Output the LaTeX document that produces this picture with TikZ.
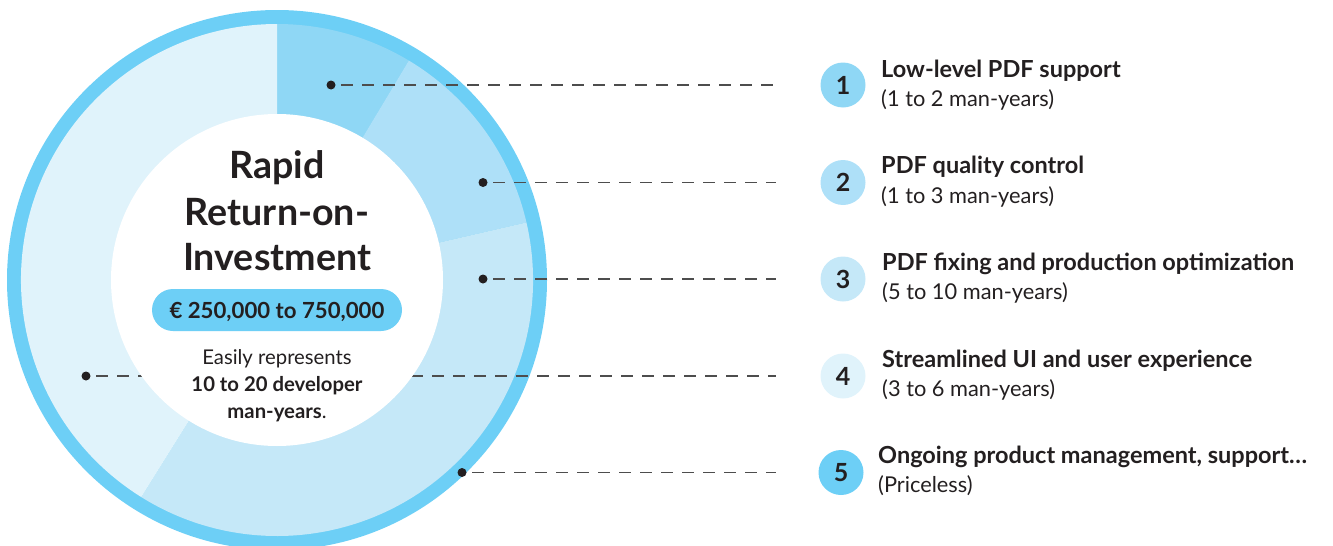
\documentclass[tikz,border=0pt]{standalone}
\usepackage{fontspec}
\setmainfont{Lato}
\definecolor{ringc}{HTML}{6DCFF6}
\definecolor{segA}{HTML}{8FD7F5}
\definecolor{segB}{HTML}{AEE0F8}
\definecolor{segC}{HTML}{C5E8F8}
\definecolor{segD}{HTML}{E0F3FB}
\definecolor{ink}{HTML}{231F20}
\definecolor{dashc}{HTML}{4D4D4D}
\tikzset{
  dotnode/.style={circle,fill=ink,inner sep=0pt,minimum size=9pt},
  dashline/.style={draw=dashc,line width=1.6pt,dash pattern=on 11.5pt off 9.5pt,shorten <=5.5pt},
  numnode/.style={circle,inner sep=0pt,minimum size=45pt,text=ink,font=\fontsize{25}{28}\selectfont\bfseries},
  itemtitle/.style={anchor=base west,inner sep=0pt,text=ink,font=\fontsize{23.5}{26}\selectfont\bfseries},
  itemsub/.style={anchor=base west,inner sep=0pt,text=ink,font=\fontsize{21.8}{25}\selectfont},
  bigtitle/.style={anchor=base,inner sep=0pt,text=ink,font=\fontsize{37.6}{40}\selectfont\bfseries},
  smalltext/.style={anchor=base,inner sep=0pt,text=ink,font=\fontsize{20.3}{22}\selectfont},
}
\begin{document}
\begin{tikzpicture}[x=1pt,y=-1pt]
\path[use as bounding box] (0,0) rectangle (1333,546);
% donut
\begin{scope}[shift={(277,280)},y=1pt]
  \fill[ringc] (0,0) circle[radius=270pt];
  \fill[segA] (0,0) -- (90:256pt) arc[start angle=90,end angle=59,radius=256pt] -- cycle;
  \fill[segB] (0,0) -- (59:256pt) arc[start angle=59,end angle=13,radius=256pt] -- cycle;
  \fill[segC] (0,0) -- (13:256pt) arc[start angle=13,end angle=-122,radius=256pt] -- cycle;
  \fill[segD] (0,0) -- (-122:256pt) arc[start angle=-122,end angle=-270,radius=256pt] -- cycle;
\end{scope}
% number circles
\node[numnode,fill=segA] (n1) at (843,85) {1};
\node[numnode,fill=segB] (n2) at (843,182.5) {2};
\node[numnode,fill=segC] (n3) at (843,279) {3};
\node[numnode,fill=segD] (n4) at (843,376) {4};
\node[numnode,fill=ringc] (n5) at (841,472.5) {5};
% dots
\node[dotnode] (d1) at (331,85) {};
\node[dotnode] (d2) at (483,182.5) {};
\node[dotnode] (d3) at (483,279) {};
\node[dotnode] (d4) at (86,376) {};
\node[dotnode] (d5) at (462,472.5) {};
% connectors
\draw[dashline,shorten >=44.5pt] (d1) -- (n1);
\draw[dashline,shorten >=44.5pt] (d2) -- (n2);
\draw[dashline,shorten >=44.5pt] (d3) -- (n3);
\draw[dashline,shorten >=44.5pt] (d4) -- (n4);
\draw[dashline,shorten >=42.5pt] (d5) -- (n5);
% white centre
\fill[white] (277,280) circle[radius=166pt];
% centre text
\node[bigtitle] (t1) at (277,178.5) {Rapid};
\node[bigtitle] (t2) at (277,225) {Return-on-};
\node[bigtitle] (t3) at (277,270.5) {Investment};
\node[rounded corners=21pt,fill=ringc,minimum width=250pt,minimum height=42pt,inner sep=0pt] (pill) at (277,310) {};
\node[anchor=base,inner sep=0pt,text=ink,font=\fontsize{22.2}{25}\selectfont\bfseries] (price) at (277,318) {€ 250,000 to 750,000};
\node[smalltext] (s1) at (277,364) {Easily represents};
\node[smalltext,font=\fontsize{20.3}{22}\selectfont\bfseries] (s2) at (277,391.5) {10 to 20 developer};
\node[smalltext] (s3) at (277,418) {\textbf{man-years}.};
% items
\node[itemtitle] (a1) at (881,77) {Low-level PDF support};
\node[itemsub] (b1) at (881,106.5) {(1 to 2 man-years)};
\node[itemtitle] (a2) at (881,173.5) {PDF quality control};
\node[itemsub] (b2) at (881,203) {(1 to 3 man-years)};
\node[itemtitle] (a3) at (882,270) {PDF fixing and production optimization};
\node[itemsub] (b3) at (882,299.5) {(5 to 10 man-years)};
\node[itemtitle] (a4) at (882,367) {Streamlined UI and user experience};
\node[itemsub] (b4) at (882,396.5) {(3 to 6 man-years)};
\node[itemtitle] (a5) at (878,463) {Ongoing product management, support…};
\node[itemsub] (b5) at (878,492.5) {(Priceless)};
\end{tikzpicture}
\end{document}
